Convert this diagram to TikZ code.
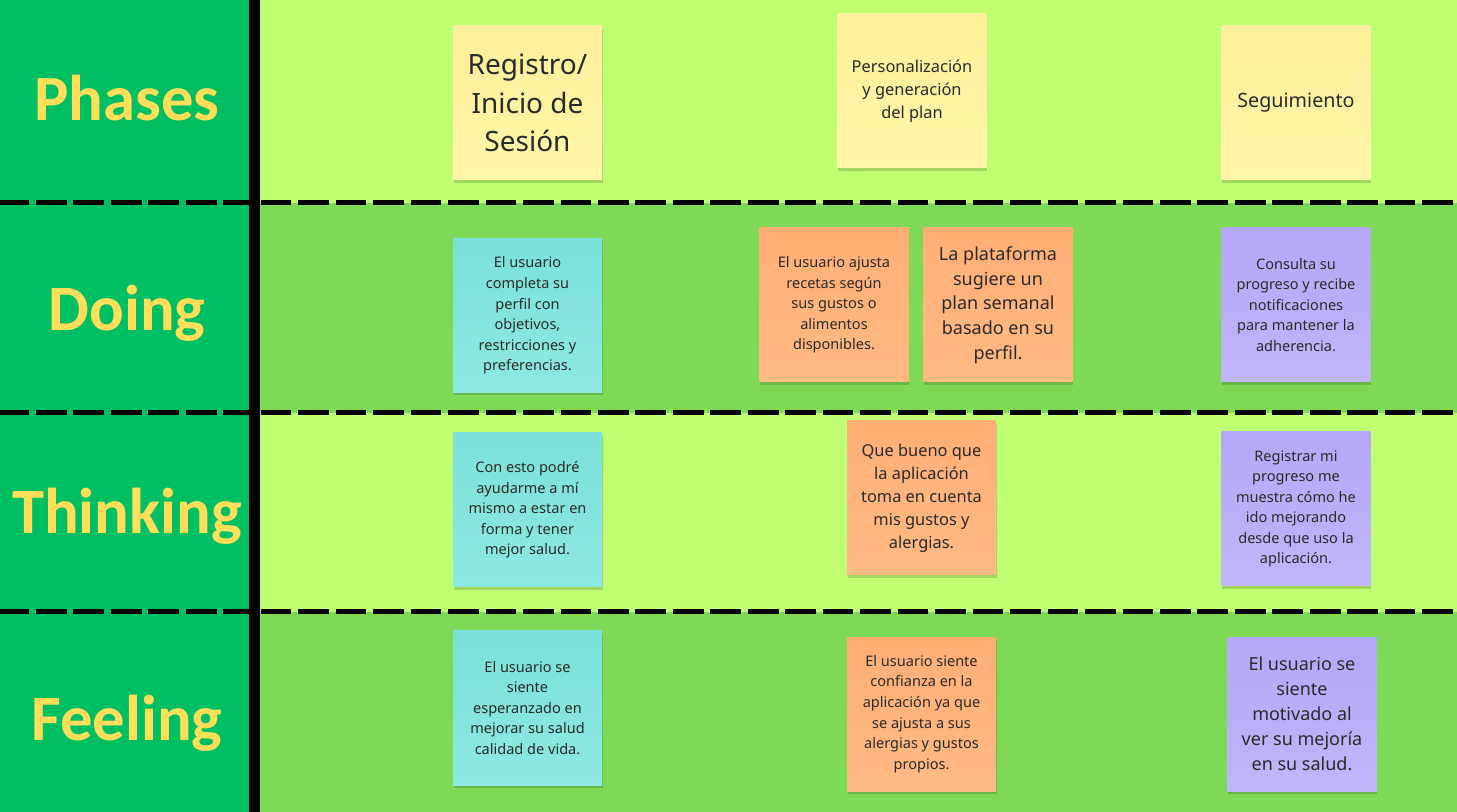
\documentclass[tikz,border=0pt]{standalone}
\usepackage{fontspec}
\setmainfont{Noto Sans}
\newfontfamily\headfont{Carlito}
\usetikzlibrary{shadows}
\definecolor{leftgreen}{HTML}{00BF63}
\definecolor{lightrow}{HTML}{C1FF72}
\definecolor{darkrow}{HTML}{7ED957}
\definecolor{headyellow}{HTML}{FFDE59}
\definecolor{stickyyel}{HTML}{FDEF9B}
\definecolor{stickyyel2}{HTML}{FFF6A8}
\definecolor{stickycyan}{HTML}{7BE1DA}
\definecolor{stickycyan2}{HTML}{8DE9E1}
\definecolor{stickyorange}{HTML}{FFAF76}
\definecolor{stickyorange2}{HTML}{FFBA84}
\definecolor{stickypurple}{HTML}{B5A7F7}
\definecolor{stickypurple2}{HTML}{C1B5FA}
\definecolor{stickytext}{HTML}{2A2A2A}
\begin{document}
\begin{tikzpicture}[x=0.75pt,y=-0.75pt,
  sticky/.style={minimum width=111.75pt, minimum height=115.5pt, inner sep=0pt, align=center, text=stickytext,
    drop shadow={shadow xshift=0.6pt, shadow yshift=-2.2pt, opacity=0.16, fill=black}},
  yel/.style={sticky, top color=stickyyel, bottom color=stickyyel2},
  cyan/.style={sticky, top color=stickycyan, bottom color=stickycyan2},
  orng/.style={sticky, top color=stickyorange, bottom color=stickyorange2},
  purp/.style={sticky, top color=stickypurple, bottom color=stickypurple2},
  smalltxt/.style={font=\fontsize{10.9pt}{15.4pt}\selectfont},
  midtxt/.style={font=\fontsize{12.3pt}{17.25pt}\selectfont},
  bigtxt/.style={font=\fontsize{13.5pt}{18.5pt}\selectfont},
  hugetxt/.style={font=\fontsize{21pt}{29pt}\selectfont},
  rowlabel/.style={font=\headfont\bfseries\fontsize{48.5pt}{50pt}\selectfont, text=headyellow, inner sep=0pt},
  sepline/.style={line width=3.75pt, dash pattern=on 23pt off 5.1pt}
]
\useasboundingbox (0,0) rectangle (1457,812);
% backgrounds
\fill[leftgreen] (0,0) rectangle (254,812);
\fill[lightrow] (254,0) rectangle (1457,203);
\fill[darkrow] (254,203) rectangle (1457,413);
\fill[lightrow] (254,413) rectangle (1457,612);
\fill[darkrow] (254,612) rectangle (1457,812);
% separators
\draw[sepline] (-1.5,203) -- (1460,203);
\draw[sepline] (-1.5,413) -- (1460,413);
\draw[sepline] (-1.5,612) -- (1460,612);
\fill[black] (249,0) rectangle (260,812);
% row labels
\node[rowlabel] (lphases) at (127,98) {Phases};
\node[rowlabel] (ldoing) at (127,313) {Doing};
\node[rowlabel] (lthinking) at (127,516) {Thinking};
\node[rowlabel] (lfeeling) at (127,723) {Feeling};
% phases
\node[yel, hugetxt] (a1) at (527.5,103) {Registro/\\Inicio de\\Sesión};
\node[yel, midtxt] (b1) at (912,91) {Personalización\\y generación\\del plan};
\node[yel, font=\fontsize{14.8pt}{19pt}\selectfont] (c1) at (1296,103) {Seguimiento};
% doing
\node[cyan, smalltxt] (a2) at (527.5,315.5) {El usuario\\completa su\\perfil con\\objetivos,\\restricciones y\\preferencias.};
\node[orng, smalltxt] (b2a) at (834,305) {El usuario ajusta\\recetas según\\sus gustos o\\alimentos\\disponibles.};
\node[orng, bigtxt] (b2b) at (998,305) {La plataforma\\sugiere un\\plan semanal\\basado en su\\perfil.};
\node[purp, smalltxt] (c2) at (1296,305) {Consulta su\\progreso y recibe\\notificaciones\\para mantener la\\adherencia.};
% thinking
\node[cyan, smalltxt] (a3) at (527.5,510) {Con esto podré\\ayudarme a mí\\mismo a estar en\\forma y tener\\mejor salud.};
\node[orng, midtxt] (b3) at (921.5,498) {Que bueno que\\la aplicación\\toma en cuenta\\mis gustos y\\alergias.};
\node[purp, smalltxt] (c3) at (1296,509) {Registrar mi\\progreso me\\muestra cómo he\\ido mejorando\\desde que uso la\\aplicación.};
% feeling
\node[cyan, smalltxt] (a4) at (527.5,708) {El usuario se\\siente\\esperanzado en\\mejorar su salud\\calidad de vida.};
\node[orng, smalltxt] (b4) at (921.5,714) {El usuario siente\\confianza en la\\aplicación ya que\\se ajusta a sus\\alergias y gustos\\propios.};
\node[purp, font=\fontsize{13.5pt}{18.75pt}\selectfont] (c4) at (1302,714) {El usuario se\\siente\\motivado al\\ver su mejoría\\en su salud.};
\end{tikzpicture}
\end{document}
